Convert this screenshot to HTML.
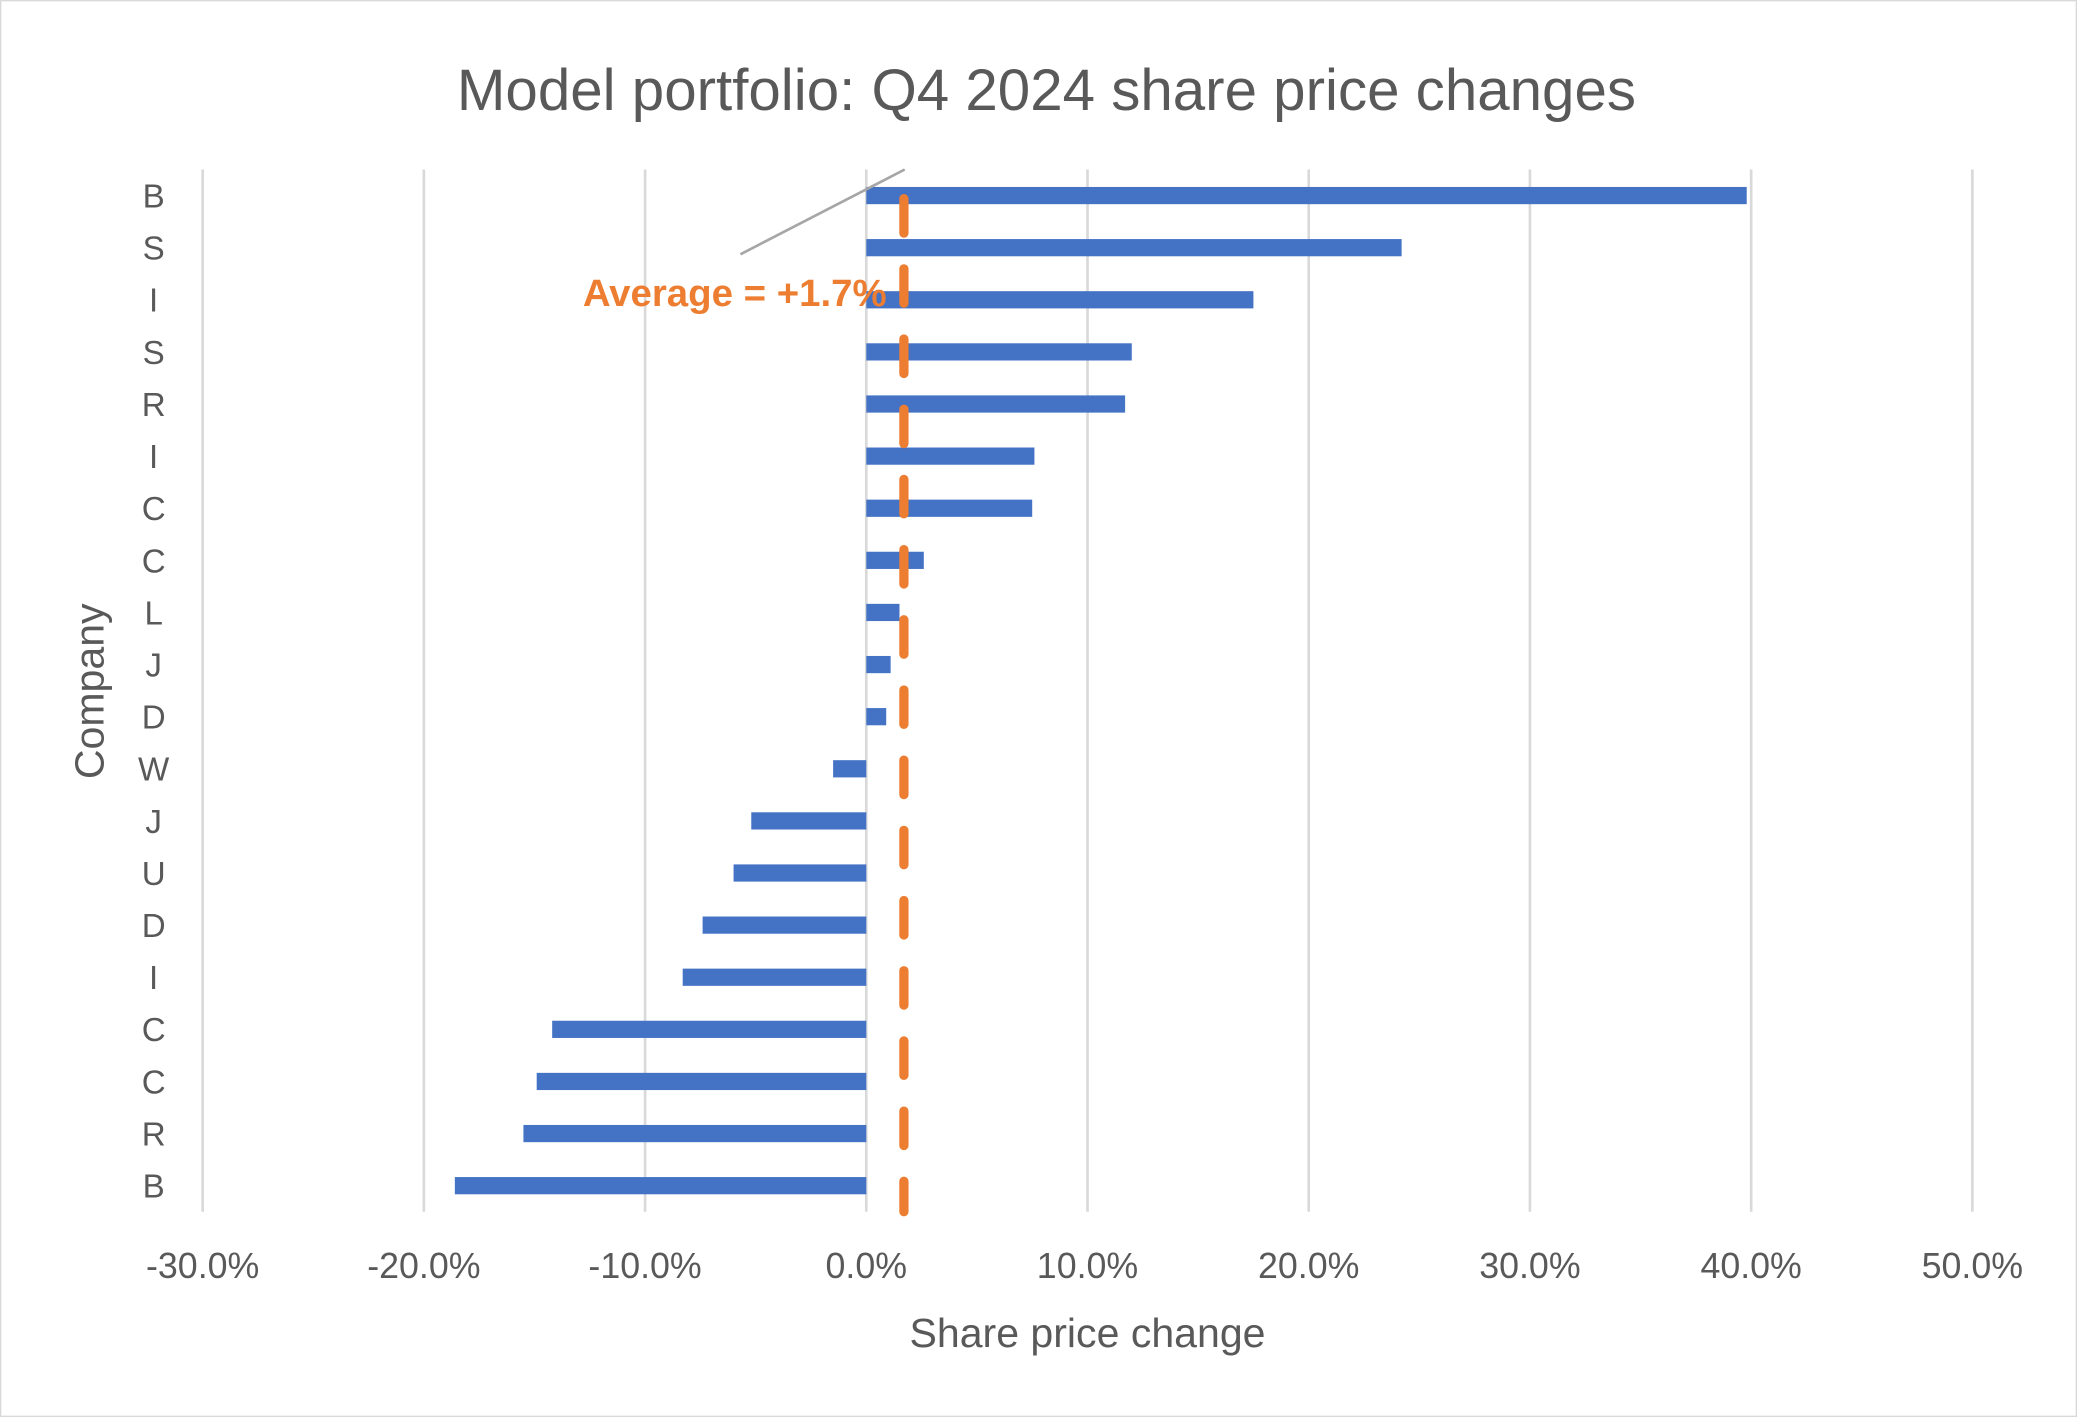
<!DOCTYPE html>
<html><head><meta charset="utf-8"><style>
html,body{margin:0;padding:0;background:#fff;}
svg{display:block;font-family:"Liberation Sans",sans-serif;}
</style></head><body>
<svg id="chart" width="2077" height="1417" viewBox="0 0 1568 1070" preserveAspectRatio="none" xmlns="http://www.w3.org/2000/svg">
<rect x="0.5" y="0.5" width="1567" height="1069" fill="#fff" stroke="#d9d9d9"/>
<text x="790" y="83" text-anchor="middle" font-size="44" fill="#595959">Model portfolio: Q4 2024 share price changes</text>
<g id="grid"></g><g id="bars"></g><g id="avg"></g><g id="xt"></g><g id="yt"></g>
<text x="821" y="1017" text-anchor="middle" font-size="31" fill="#595959">Share price change</text>
<text transform="translate(78,522) rotate(-90)" text-anchor="middle" font-size="31" fill="#595959">Company</text>
<line x1="559" y1="192" x2="683" y2="128" stroke="#a6a6a6" stroke-width="2"/>
<text x="440" y="231" font-size="29" font-weight="bold" fill="#ed7d31">Average = +1.7%</text>
</svg>
<script>
const companies=["B","S","I","S","R","I","C","C","L","J","D","W","J","U","D","I","C","C","R","B"];
const changes=[39.8,24.2,17.5,12.0,11.7,7.6,7.5,2.6,1.5,1.1,0.9,-1.5,-5.2,-6.0,-7.4,-8.3,-14.2,-14.9,-15.5,-18.6];
const ticks=[-30,-20,-10,0,10,20,30,40,50];
const tickLabels=["-30.0%","-20.0%","-10.0%","0.0%","10.0%","20.0%","30.0%","40.0%","50.0%"];
const average=[1.7];
const NS="http://www.w3.org/2000/svg";
const xs=v=>654+(v)*16.7;
const plotTop=128,plotBottom=915,nRows=companies.length,rowStep=(plotBottom-plotTop)/nRows;
const ys=i=>plotTop+rowStep*(i+0.5);
function mk(t,a,p){const e=document.createElementNS(NS,t);for(const k in a)e.setAttribute(k,a[k]);document.getElementById(p).appendChild(e);return e;}
ticks.forEach((t,i)=>{
 const g=mk("line",{x1:xs(t),x2:xs(t),y1:plotTop,y2:plotBottom,stroke:"#d9d9d9","stroke-width":2},"grid");
 
 
 const l=mk("text",{x:xs(t),y:965,"text-anchor":"middle","font-size":27,fill:"#595959"},"xt");
 l.textContent=tickLabels[i];
 
 
});
changes.forEach((v,i)=>{
 const b=mk("rect",{x:Math.min(xs(0),xs(v)),y:ys(i)-6.5,width:Math.abs(xs(v)-xs(0)),height:13,fill:"#4472c4"},"bars");
 
 
 const l=mk("text",{x:116,y:ys(i)+9,"text-anchor":"middle","font-size":25,fill:"#595959"},"yt");
 l.textContent=companies[i];
 
 
});
const a=mk("line",{x1:xs(average[0]),x2:xs(average[0]),y1:150,y2:915,stroke:"#ed7d31","stroke-width":7,"stroke-dasharray":"26 27","stroke-linecap":"round"},"avg");


</script>
</body></html>
